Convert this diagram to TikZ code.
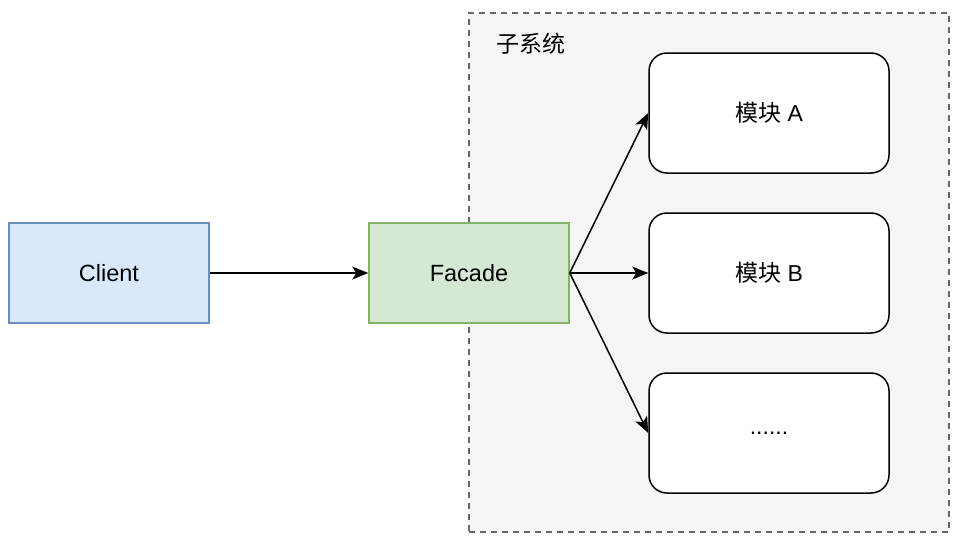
\documentclass[tikz,border=0pt]{standalone}
\usepackage{fontspec}
\setmainfont{Liberation Sans}
\newfontfamily\cjk{Noto Sans CJK SC}
\usetikzlibrary{arrows.meta}
\definecolor{subfill}{HTML}{F5F5F5}
\definecolor{subdraw}{HTML}{666666}
\definecolor{bluefill}{HTML}{DAE8FC}
\definecolor{bluedraw}{HTML}{6C8EBF}
\definecolor{greenfill}{HTML}{D5E8D4}
\definecolor{greendraw}{HTML}{82B366}
\tikzset{
  box/.style={draw, line width=1.5pt, minimum width=200pt, minimum height=100pt, inner sep=0pt, font=\fontsize{23.5}{27}\selectfont},
  modbox/.style={draw=black, fill=white, line width=1.5pt, rounded corners=18pt, minimum width=240pt, minimum height=120pt, inner sep=0pt, font=\fontsize{23}{27}\selectfont},
  conn/.style={line width=1.5pt, -{Stealth[length=16pt,width=13pt,inset=4pt]}}
}
\begin{document}
\begin{tikzpicture}[x=1pt,y=-1pt]
\useasboundingbox (0,0) rectangle (964,546);
\node[draw=subdraw, fill=subfill, line width=1.5pt, dash pattern=on 6pt off 5pt, minimum width=480pt, minimum height=519pt, inner sep=0pt] (sub) at (709,272.5) {};
\node[anchor=west, font=\cjk\fontsize{23}{27}\selectfont] (sublabel) at (493,44) {子系统};
\node[box, fill=bluefill, draw=bluedraw] (client) at (109,273) {Client};
\node[box, fill=greenfill, draw=greendraw] (facade) at (469,273) {Facade};
\node[modbox] (ma) at (769,113) {{\cjk 模块} A};
\node[modbox] (mb) at (769,273) {{\cjk 模块} B};
\node[modbox] (mc) at (769,433) {......};
\draw[conn] (client.east) -- (facade.west);
\draw[conn] (facade.east) -- (ma.west);
\draw[conn] (facade.east) -- (mb.west);
\draw[conn] (facade.east) -- (mc.west);
\end{tikzpicture}
\end{document}
